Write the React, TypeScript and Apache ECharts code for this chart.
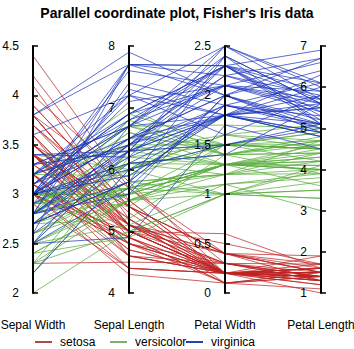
import React, { useEffect, useRef } from "react";
import * as echarts from "echarts";

// Fisher's Iris data, rows: [sepal length, sepal width, petal length, petal width]
const setosa: number[][] = [
  [5.1,3.5,1.4,0.2],[4.9,3.0,1.4,0.2],[4.7,3.2,1.3,0.2],[4.6,3.1,1.5,0.2],[5.0,3.6,1.4,0.2],
  [5.4,3.9,1.7,0.4],[4.6,3.4,1.4,0.3],[5.0,3.4,1.5,0.2],[4.4,2.9,1.4,0.2],[4.9,3.1,1.5,0.1],
  [5.4,3.7,1.5,0.2],[4.8,3.4,1.6,0.2],[4.8,3.0,1.4,0.1],[4.3,3.0,1.1,0.1],[5.8,4.0,1.2,0.2],
  [5.7,4.4,1.5,0.4],[5.4,3.9,1.3,0.4],[5.1,3.5,1.4,0.3],[5.7,3.8,1.7,0.3],[5.1,3.8,1.5,0.3],
  [5.4,3.4,1.7,0.2],[5.1,3.7,1.5,0.4],[4.6,3.6,1.0,0.2],[5.1,3.3,1.7,0.5],[4.8,3.4,1.9,0.2],
  [5.0,3.0,1.6,0.2],[5.0,3.4,1.6,0.4],[5.2,3.5,1.5,0.2],[5.2,3.4,1.4,0.2],[4.7,3.2,1.6,0.2],
  [4.8,3.1,1.6,0.2],[5.4,3.4,1.5,0.4],[5.2,4.1,1.5,0.1],[5.5,4.2,1.4,0.2],[4.9,3.1,1.5,0.2],
  [5.0,3.2,1.2,0.2],[5.5,3.5,1.3,0.2],[4.9,3.6,1.4,0.1],[4.4,3.0,1.3,0.2],[5.1,3.4,1.5,0.2],
  [5.0,3.5,1.3,0.3],[4.5,2.3,1.3,0.3],[4.4,3.2,1.3,0.2],[5.0,3.5,1.6,0.6],[5.1,3.8,1.9,0.4],
  [4.8,3.0,1.4,0.3],[5.1,3.8,1.6,0.2],[4.6,3.2,1.4,0.2],[5.3,3.7,1.5,0.2],[5.0,3.3,1.4,0.2],
];
const versicolor: number[][] = [
  [7.0,3.2,4.7,1.4],[6.4,3.2,4.5,1.5],[6.9,3.1,4.9,1.5],[5.5,2.3,4.0,1.3],[6.5,2.8,4.6,1.5],
  [5.7,2.8,4.5,1.3],[6.3,3.3,4.7,1.6],[4.9,2.4,3.3,1.0],[6.6,2.9,4.6,1.3],[5.2,2.7,3.9,1.4],
  [5.0,2.0,3.5,1.0],[5.9,3.0,4.2,1.5],[6.0,2.2,4.0,1.0],[6.1,2.9,4.7,1.4],[5.6,2.9,3.6,1.3],
  [6.7,3.1,4.4,1.4],[5.6,3.0,4.5,1.5],[5.8,2.7,4.1,1.0],[6.2,2.2,4.5,1.5],[5.6,2.5,3.9,1.1],
  [5.9,3.2,4.8,1.8],[6.1,2.8,4.0,1.3],[6.3,2.5,4.9,1.5],[6.1,2.8,4.7,1.2],[6.4,2.9,4.3,1.3],
  [6.6,3.0,4.4,1.4],[6.8,2.8,4.8,1.4],[6.7,3.0,5.0,1.7],[6.0,2.9,4.5,1.5],[5.7,2.6,3.5,1.0],
  [5.5,2.4,3.8,1.1],[5.5,2.4,3.7,1.0],[5.8,2.7,3.9,1.2],[6.0,2.7,5.1,1.6],[5.4,3.0,4.5,1.5],
  [6.0,3.4,4.5,1.6],[6.7,3.1,4.7,1.5],[6.3,2.3,4.4,1.3],[5.6,3.0,4.1,1.3],[5.5,2.5,4.0,1.3],
  [5.5,2.6,4.4,1.2],[6.1,3.0,4.6,1.4],[5.8,2.6,4.0,1.2],[5.0,2.3,3.3,1.0],[5.6,2.7,4.2,1.3],
  [5.7,3.0,4.2,1.2],[5.7,2.9,4.2,1.3],[6.2,2.9,4.3,1.3],[5.1,2.5,3.0,1.1],[5.7,2.8,4.1,1.3],
];
const virginica: number[][] = [
  [6.3,3.3,6.0,2.5],[5.8,2.7,5.1,1.9],[7.1,3.0,5.9,2.1],[6.3,2.9,5.6,1.8],[6.5,3.0,5.8,2.2],
  [7.6,3.0,6.6,2.1],[4.9,2.5,4.5,1.7],[7.3,2.9,6.3,1.8],[6.7,2.5,5.8,1.8],[7.2,3.6,6.1,2.5],
  [6.5,3.2,5.1,2.0],[6.4,2.7,5.3,1.9],[6.8,3.0,5.5,2.1],[5.7,2.5,5.0,2.0],[5.8,2.8,5.1,2.4],
  [6.4,3.2,5.3,2.3],[6.5,3.0,5.5,1.8],[7.7,3.8,6.7,2.2],[7.7,2.6,6.9,2.3],[6.0,2.2,5.0,1.5],
  [6.9,3.2,5.7,2.3],[5.6,2.8,4.9,2.0],[7.7,2.8,6.7,2.0],[6.3,2.7,4.9,1.8],[6.7,3.3,5.7,2.1],
  [7.2,3.2,6.0,1.8],[6.2,2.8,4.8,1.8],[6.1,3.0,4.9,1.8],[6.4,2.8,5.6,2.1],[7.2,3.0,5.8,1.6],
  [7.4,2.8,6.1,1.9],[7.9,3.8,6.4,2.0],[6.4,2.8,5.6,2.2],[6.3,2.8,5.1,1.5],[6.1,2.6,5.6,1.4],
  [7.7,3.0,6.1,2.3],[6.3,3.4,5.6,2.4],[6.4,3.1,5.5,1.8],[6.0,3.0,4.8,1.8],[6.9,3.1,5.4,2.1],
  [6.7,3.1,5.6,2.4],[6.9,3.1,5.1,2.3],[5.8,2.7,5.1,1.9],[6.8,3.2,5.9,2.3],[6.7,3.3,5.7,2.5],
  [6.7,3.0,5.2,2.3],[6.3,2.5,5.0,1.9],[6.5,3.0,5.2,2.0],[6.2,3.4,5.4,2.3],[5.9,3.0,5.1,1.8],
];

const speciesNames = ["setosa", "versicolor", "virginica"];
const speciesColors = ["#bc2222", "#58ac3c", "#1c34bc"];
const legendColors = ["#b04848", "#78b070", "#2840b0"];
const axisNames = ["Sepal Width", "Sepal Length", "Petal Width", "Petal Length"];
// column of each displayed axis in the rows above
const axisColumns = [1, 0, 3, 2];
const axisMin = [2, 4, 0, 1];
const axisMax = [4.5, 8, 2.5, 7];
const axisStep = [0.5, 1, 0.5, 1];

const FONT = 'Arial, "Liberation Sans", sans-serif';

export default function App() {
  const ref = useRef<HTMLDivElement>(null);
  useEffect(() => {
    if (!ref.current) return;
    const chart = echarts.init(ref.current, undefined, { renderer: "svg" });
    const groups = [setosa, versicolor, virginica];
    const legendLeft = [35, 110, 186];
    chart.setOption({
      animation: false,
      backgroundColor: "#ffffff",
      title: {
        text: "Parallel coordinate plot, Fisher's Iris data",
        left: "center",
        top: 1,
        textStyle: { fontFamily: FONT, fontSize: 14, fontWeight: "bold", color: "#000" },
      },
      legend: speciesNames.map((n, i) => ({
        data: [n],
        left: legendLeft[i],
        top: 336,
        itemWidth: 17,
        itemHeight: 2,
        icon: "rect",
        itemGap: 0,
        padding: 0,
        selectedMode: false,
        itemStyle: { color: legendColors[i], borderWidth: 0 },
        lineStyle: { width: 0 },
        textStyle: { fontFamily: FONT, fontSize: 12, color: "#000", padding: [0, 0, 0, 3] },
      })),
      parallel: {
        left: 33,
        right: 33,
        top: 46,
        bottom: 56,
        parallelAxisDefault: {
          nameLocation: "start",
          nameGap: 26,
          nameTextStyle: { fontFamily: FONT, fontSize: 12, color: "#000" },
          axisLine: { lineStyle: { color: "#000", width: 2 } },
          axisTick: { length: 5, lineStyle: { color: "#000", width: 1.5 }, inside: true },
          axisLabel: { fontFamily: FONT, fontSize: 12, color: "#000", margin: -14, align: "right" },
          splitLine: { show: false },
        },
      },
      parallelAxis: axisNames.map((n, i) => ({
        dim: i,
        name: n,
        min: axisMin[i],
        max: axisMax[i],
        interval: axisStep[i],
      })),
      series: groups.map((g, i) => ({
        name: speciesNames[i],
        type: "parallel",
        smooth: false,
        lineStyle: { color: speciesColors[i], width: 1, opacity: 0.72 },
        itemStyle: { color: legendColors[i] },
        data: g.map((row) => axisColumns.map((c) => row[c])),
      })),
    });
    return () => chart.dispose();
  }, []);
  return <div ref={ref} style={{ width: 354, height: 349, position: "absolute", left: 0, top: 0 }} />;
}
